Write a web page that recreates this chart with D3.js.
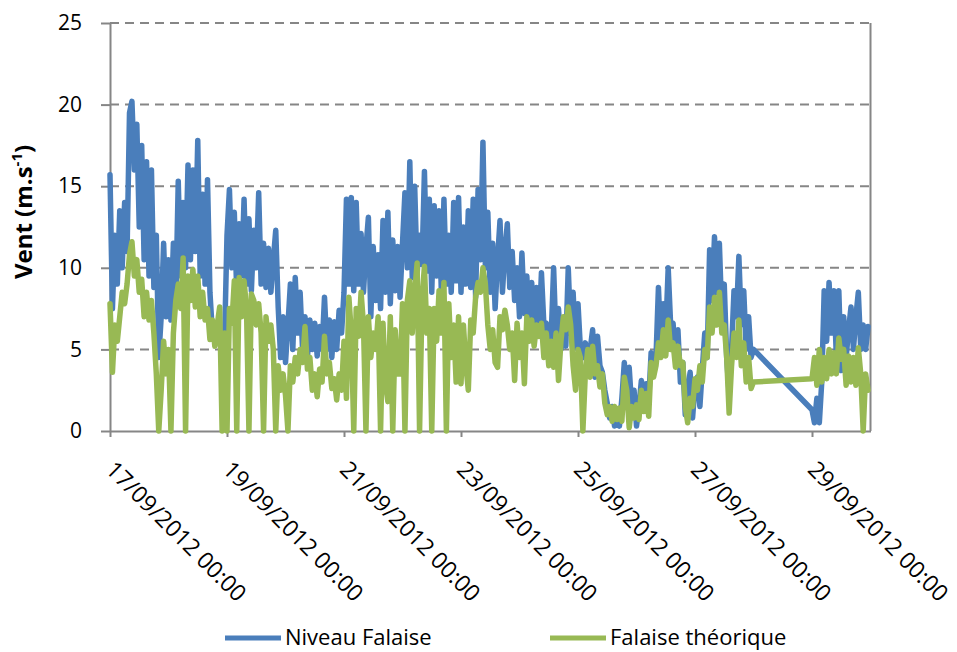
<!DOCTYPE html>
<html>
<head>
<meta charset="utf-8">
<script src="https://cdn.jsdelivr.net/npm/d3@7"></script>
<style>
  body { margin: 0; background: #fff; }
  text { font-family: "Open Sans", sans-serif; fill: #000; }
</style>
</head>
<body>
<div id="chart"></div>
<script>
// hourly readings, first value at startTime, one per hour (null = no data)
var startTime = "17/09/2012 00:00";
var endTime = "30/09/2012 00:00";
var tickLabels = ["17/09/2012 00:00", "19/09/2012 00:00", "21/09/2012 00:00", "23/09/2012 00:00",
                  "25/09/2012 00:00", "27/09/2012 00:00", "29/09/2012 00:00"];
var yTicks = [0, 5, 10, 15, 20, 25];
var seriesNames = ["Niveau Falaise", "Falaise théorique"];

var niveauFalaise = [
  15.7, 7.5, 12.0, 9.0, 13.5, 10.0, 14.0, 11.0, 19.5, 20.2, 16.0, 18.8,
  12.5, 17.5, 10.5, 16.5, 9.5, 16.0, 8.8, 12.0, 4.5, 7.0, 11.5, 7.0,
  10.5, 6.8, 11.5, 8.0, 15.3, 9.5, 14.0, 10.0, 16.3, 10.5, 16.0, 11.0,
  17.8, 9.5, 14.5, 9.0, 15.4, 8.5, 6.0, 5.5, 6.5, 5.8, 6.0, 5.5,
  12.0, 14.8, 10.0, 13.4, 8.5, 12.7, 9.5, 14.2, 9.0, 13.0, 8.6, 12.3,
  10.0, 14.6, 9.0, 11.5, 8.8, 11.2, 8.5, 10.5, 12.3, 7.6, 4.5, 7.0,
  4.2, 6.5, 9.0, 5.0, 9.4, 6.0, 8.5, 5.0, 7.0, 4.5, 6.8, 5.0,
  6.6, 4.6, 6.4, 5.0, 8.2, 5.0, 6.8, 4.5, 6.7, 5.0, 7.4, 6.0,
  8.5, 14.2, 9.0, 14.3, 8.6, 14.0, 9.0, 12.1, 8.5, 11.2, 13.1, 7.0,
  11.3, 8.0, 10.8, 7.5, 12.9, 8.5, 13.4, 7.8, 11.7, 8.6, 11.3, 8.2,
  11.5, 14.6, 10.0, 16.5, 9.4, 15.0, 9.6, 12.0, 10.2, 15.9, 9.8, 14.2,
  8.5, 13.8, 9.5, 13.5, 8.2, 14.2, 9.0, 12.0, 8.5, 14.0, 9.2, 14.3,
  8.5, 12.5, 9.0, 13.5, 8.8, 14.2, 8.2, 14.8, 10.5, 17.7, 10.0, 13.4,
  8.5, 11.5, 7.5, 10.5, 12.9, 8.5, 11.0, 12.7, 8.8, 11.0, 8.0, 10.0,
  7.0, 10.9, 7.2, 9.5, 6.5, 9.1, 6.2, 8.8, 6.0, 9.7, 6.5, 6.6,
  4.5, 5.8, 10.0, 5.5, 7.5, 5.0, 6.5, 5.2, 10.0, 6.0, 8.5, 5.1,
  7.8, 5.0, 4.5, 5.4, 3.8, 5.0, 6.2, 3.3, 5.8, 4.0, 3.6, 2.5,
  1.7, 0.8, 1.5, 0.3, 1.2, 0.3, 2.0, 4.2, 2.0, 3.9, 1.5, 2.5,
  0.3, 1.5, 3.1, 1.5, 2.9, 1.8, 4.8, 3.5, 4.5, 8.8, 5.0, 7.8,
  6.0, 10.0, 6.5, 6.6, 4.5, 6.2, 3.0, 4.2, 1.0, 2.5, 3.6, 0.8,
  2.8, 3.3, 1.5, 3.8, 6.0, 4.5, 11.1, 8.0, 11.9, 8.5, 11.5, 7.0,
  9.0, 4.5, 2.3, 5.0, 8.6, 7.0, 10.7, 6.5, 8.6, 5.0, 7.0, 4.5,
  5.0, null, null, null, null, null, null, null, null, null, null, null,
  null, null, null, null, null, null, null, null, null, null, null, null,
  1.3, 0.5, 2.0, 0.5, 3.0, 8.6, 5.5, 9.1, 6.0, 8.6, 4.5, 8.6,
  3.7, 7.0, 4.5, 6.2, 7.6, 5.0, 7.0, 8.5, 5.0, 6.5, 5.0, 6.4
];

var falaiseTheorique = [
  7.8, 3.6, 6.5, 5.5, 7.0, 8.5, 7.8, 9.0, 10.8, 11.6, 9.5, 10.5,
  8.5, 9.3, 7.0, 8.5, 6.8, 8.0, 6.0, 3.5, 0, 2.5, 5.5, 3.5,
  5.0, 0, 6.0, 8.0, 9.0, 7.5, 10.6, 0, 9.5, 8.0, 9.9, 7.6,
  9.5, 7.0, 8.5, 6.8, 7.5, 5.6, 6.8, 5.2, 6.5, 7.6, 0, 6.0,
  0, 7.5, 6.6, 9.2, 0, 9.4, 7.0, 9.2, 7.5, 0, 8.4, 8.0,
  6.5, 7.8, 6.0, 0, 7.0, 5.5, 6.5, 5.0, 0, 4.0, 2.5, 3.5,
  2.2, 0, 4.0, 3.0, 4.5, 3.5, 5.0, 4.2, 6.4, 3.8, 4.5, 2.5,
  3.5, 2.1, 3.8, 3.0, 5.8, 3.5, 4.2, 2.6, 3.2, 1.9, 3.5, 2.5,
  5.5, 2.0, 8.2, 6.0, 0, 7.5, 5.8, 8.5, 6.5, 0, 7.0, 4.5,
  6.0, 5.0, 7.0, 0, 6.6, 3.0, 1.8, 7.0, 0, 6.2, 3.5, 3.5,
  7.8, 0, 8.0, 9.2, 6.0, 8.5, 10.3, 0, 8.0, 10.1, 6.0, 7.5,
  0, 7.5, 5.5, 8.6, 6.0, 9.1, 0, 7.8, 4.5, 6.5, 3.0, 7.0,
  2.9, 6.5, 4.0, 2.5, 6.8, 6.0, 8.2, 9.1, 8.5, 10.0, 9.0, 6.5,
  5.0, 6.2, 4.2, 3.9, 7.0, 6.2, 7.4, 6.5, 5.0, 6.0, 3.1, 6.6,
  4.5, 6.0, 2.9, 7.0, 5.5, 6.8, 5.2, 6.5, 5.8, 6.6, 4.5, 6.0,
  4.0, 5.5, 3.9, 6.0, 3.1, 5.5, 7.0, 6.2, 7.6, 6.5, 4.0, 2.5,
  5.0, 4.5, 0, 3.5, 5.0, 3.3, 5.2, 3.5, 4.0, 2.7, 3.5, 1.7,
  1.0, 1.5, 0.6, 1.5, 0.7, 1.4, 0.6, 3.3, 2.5, 0.2, 1.5, 0.8,
  1.6, 0.7, 2.5, 1.2, 2.3, 0.9, 4.2, 3.3, 4.0, 5.4, 4.5, 6.2,
  4.6, 6.8, 5.0, 5.4, 3.9, 5.2, 4.0, 4.2, 1.5, 0.5, 2.0, 1.5,
  3.2, 2.5, 4.0, 3.0, 5.0, 4.5, 7.6, 6.0, 8.2, 6.5, 8.5, 6.0,
  6.5, 4.5, 1.1, 4.0, 6.0, 4.5, 6.8, 4.0, 5.4, 3.0, 4.5, 2.6,
  3.0, null, null, null, null, null, null, null, null, null, null, null,
  null, null, null, null, null, null, null, null, null, null, null, null,
  3.2, 4.5, 2.8, 5.0, 3.0, 4.5, 3.2, 5.0, 3.5, 4.8, 3.5, 5.7,
  4.4, 5.0, 2.8, 4.6, 3.0, 4.5, 2.8, 5.1, 3.5, 0, 3.5, 2.5
];

var width = 957, height = 652;
var margin = { left: 110, right: 86.5, top: 23, bottom: 221 };
var w = width - margin.left - margin.right;
var h = height - margin.top - margin.bottom;
var axisColor = "#868686";
var colors = ["#4a7ebb", "#98b954"];

var parseTime = d3.timeParse("%d/%m/%Y %H:%M");
var formatTime = d3.timeFormat("%d/%m/%Y %H:%M");
var t0 = parseTime(startTime);

function toPoints(vals) {
    return vals.map(function(v, i) { return { t: d3.timeHour.offset(t0, i), v: v }; })
               .filter(function(d) { return d.v !== null; });
}

var x = d3.scaleTime()
        .domain([t0, parseTime(endTime)])
        .range([0, w]);

var y = d3.scaleLinear()
        .domain([0, 25])
        .range([h, 0]);

var svg = d3.select("#chart")
        .append("svg")
        .attr("width", width)
        .attr("height", height);

var g = svg.append("g")
        .attr("transform", "translate(" + margin.left + "," + margin.top + ")");

// dashed gridlines
g.selectAll(".grid")
    .data(yTicks.filter(function(d) { return d > 0; }))
    .enter().append("line")
    .attr("class", "grid")
    .attr("x1", 0)
    .attr("x2", w)
    .attr("y1", function(d) { return y(d); })
    .attr("y2", function(d) { return y(d); })
    .style("stroke", axisColor)
    .style("stroke-width", 2)
    .style("stroke-dasharray", "9,6");

// right border of plot area
g.append("line")
    .attr("x1", w).attr("x2", w)
    .attr("y1", 0).attr("y2", h)
    .style("stroke", axisColor)
    .style("stroke-width", 2);

var yAxis = g.append("g")
    .call(d3.axisLeft(y).tickValues(yTicks).tickSize(9).tickSizeOuter(0).tickPadding(19));

var xAxis = g.append("g")
    .attr("transform", "translate(0," + h + ")")
    .call(d3.axisBottom(x)
        .tickValues(tickLabels.map(parseTime))
        .tickFormat(formatTime)
        .tickSize(6)
        .tickSizeOuter(0));

[yAxis, xAxis].forEach(function(a) {
    a.selectAll("path, line").style("stroke", axisColor).style("stroke-width", 2);
    a.selectAll("text")
        .style("font-family", "'Open Sans', sans-serif")
        .style("font-size", "21px")
        .style("fill", "#000");
});

xAxis.selectAll("text")
    .attr("y", 0)
    .attr("dy", 0)
    .attr("text-anchor", "start")
    .style("font-size", "23px")
    .attr("transform", "translate(-6,40) rotate(45)");

var line = d3.line()
    .x(function(d) { return x(d.t); })
    .y(function(d) { return y(d.v); });

[niveauFalaise, falaiseTheorique].forEach(function(vals, i) {
    g.append("path")
        .datum(toPoints(vals))
        .attr("d", line)
        .style("fill", "none")
        .style("stroke", colors[i])
        .style("stroke-width", 5.5)
        .style("stroke-linejoin", "round")
        .style("stroke-linecap", "round");
});

// y axis title
var title = svg.append("text")
    .attr("transform", "translate(32," + (margin.top + h / 2 - 15) + ") rotate(-90)")
    .attr("text-anchor", "middle")
    .style("font-weight", "bold")
    .style("font-size", "24px");
title.append("tspan").text("Vent (m.s");
title.append("tspan").attr("baseline-shift", "super").style("font-size", "15px").text("-1");
title.append("tspan").text(")");

// legend
var legendX = [225, 550];
var legend = svg.selectAll(".legend")
    .data(seriesNames)
    .enter().append("g")
    .attr("class", "legend")
    .attr("transform", function(d, i) { return "translate(" + legendX[i] + ",638)"; });

legend.append("line")
    .attr("x1", 0).attr("x2", 56)
    .attr("y1", 0).attr("y2", 0)
    .style("stroke", function(d, i) { return colors[i]; })
    .style("stroke-width", 5);

legend.append("text")
    .attr("x", 60)
    .attr("y", 7)
    .style("font-size", "22px")
    .text(function(d) { return d; });
</script>
</body>
</html>
